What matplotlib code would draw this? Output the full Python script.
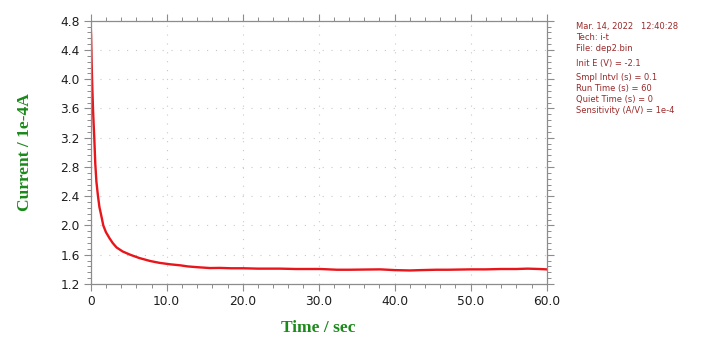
import matplotlib
matplotlib.use("Agg")
import matplotlib.pyplot as plt
from matplotlib.ticker import MultipleLocator, FixedLocator, FixedFormatter

# i-t curve (chronoamperometry), current in units of 1e-4 A
time_s = [0.0, 0.05, 0.09, 0.13, 0.18, 0.24, 0.3, 0.38, 0.47, 0.6, 0.75, 0.96,
          1.15, 1.36, 1.66, 2.0, 2.45, 2.9, 3.4, 4.2, 5.2, 6.4, 7.8, 9.0, 10.4,
          11.8, 12.8, 14.0, 15.7, 17.0, 18.5, 20.1, 22.0, 24.9, 27.0, 30.2,
          32.4, 34.0, 36.3, 38.1, 40.0, 42.0, 43.5, 45.5, 47.0, 50.0, 52.0,
          54.0, 56.0, 57.5, 59.0, 60.0]
current = [4.73, 4.6, 4.4, 4.2, 4.0, 3.8, 3.6, 3.4, 3.2, 2.85, 2.6, 2.4,
           2.25, 2.15, 2.0, 1.91, 1.83, 1.76, 1.70, 1.645, 1.60, 1.555, 1.515,
           1.49, 1.47, 1.455, 1.44, 1.43, 1.418, 1.42, 1.415, 1.415, 1.41,
           1.41, 1.405, 1.405, 1.395, 1.395, 1.398, 1.40, 1.39, 1.385, 1.39,
           1.395, 1.395, 1.40, 1.40, 1.405, 1.405, 1.41, 1.405, 1.40]

x_ticks = [0, 10, 20, 30, 40, 50, 60]
x_tick_labels = ["0", "10.0", "20.0", "30.0", "40.0", "50.0", "60.0"]
y_ticks = [1.2, 1.6, 2.0, 2.4, 2.8, 3.2, 3.6, 4.0, 4.4, 4.8]
y_tick_labels = ["1.2", "1.6", "2.0", "2.4", "2.8", "3.2", "3.6", "4.0", "4.4", "4.8"]

info_lines = [
    "Mar. 14, 2022   12:40:28",
    "Tech: i-t",
    "File: dep2.bin",
    "Init E (V) = -2.1",
    "Smpl Intvl (s) = 0.1",
    "Run Time (s) = 60",
    "Quiet Time (s) = 0",
    "Sensitivity (A/V) = 1e-4",
]
info_y_px = [26, 37.3, 48.3, 63.3, 77.0, 88.5, 99.8, 110.8]

W, H = 719, 344
fig = plt.figure(figsize=(W / 100, H / 100), dpi=100)
ax = fig.add_axes([90.7 / W, (H - 284) / H, 456 / W, 263.3 / H])

ax.plot(time_s, current, color="#e8151b", linewidth=1.7, solid_joinstyle="round")

ax.set_xlim(0, 60)
ax.set_ylim(1.2, 4.8)

ax.xaxis.set_major_locator(FixedLocator(x_ticks))
ax.xaxis.set_major_formatter(FixedFormatter(x_tick_labels))
ax.yaxis.set_major_locator(FixedLocator(y_ticks))
ax.yaxis.set_major_formatter(FixedFormatter(y_tick_labels))
ax.xaxis.set_minor_locator(MultipleLocator(2))
ax.yaxis.set_minor_locator(MultipleLocator(0.08))

spine_col = "#8c8c8c"
for s in ax.spines.values():
    s.set_color(spine_col)
    s.set_linewidth(0.9)

ax.tick_params(which="both", direction="out", color=spine_col,
               top=True, right=True, labeltop=False, labelright=False)
ax.tick_params(which="major", length=5, width=0.8, labelsize=8.8,
               labelcolor="#1e1e1e", pad=3)
ax.tick_params(which="minor", length=3, width=0.7)
for lab in ax.get_xticklabels() + ax.get_yticklabels():
    lab.set_family(["DejaVu Sans"])

ax.grid(True, which="major", color="#c8c8c8", linewidth=0.8,
        linestyle=(0, (1, 7)))

label_font = dict(family=["Liberation Serif", "DejaVu Serif"], weight="bold",
                  size=12.5, color="#1a8a1a")
fig.text(318.7 / W, 1 - 328 / H, "Time / sec", ha="center", va="center",
         **label_font)
fig.text(25 / W, 1 - 152 / H, "Current / 1e-4A", ha="center", va="center",
         rotation=90, **label_font)

for line, ypx in zip(info_lines, info_y_px):
    fig.text(576.5 / W, 1 - ypx / H, line, ha="left", va="center",
             family=["DejaVu Sans"], size=6.0, color="#9a2a2a")

fig.savefig("out.png", dpi=100)
